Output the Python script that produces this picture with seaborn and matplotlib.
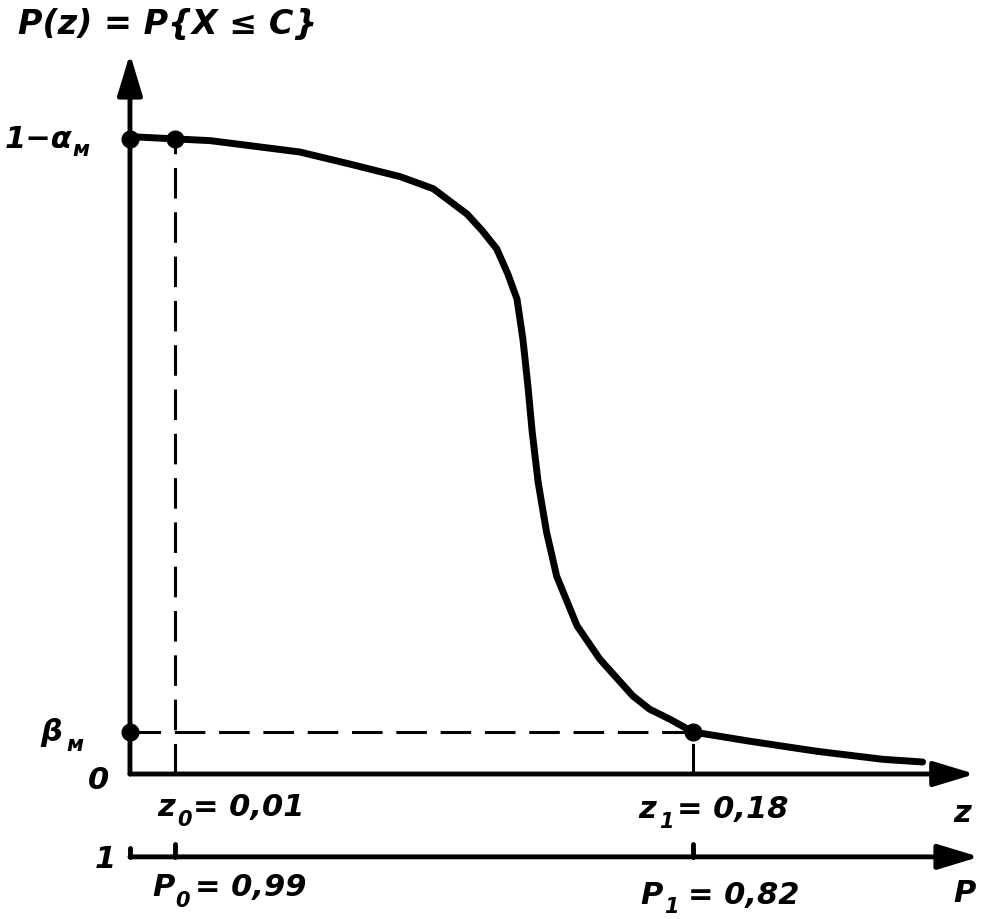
import pandas as pd
import seaborn as sns
from matplotlib import pyplot as plt

# operating characteristic P(z)
# z_pos = position along the z axis (axis length taken as 1), p_val = P(z)
z_pos = [0.0, 0.047, 0.095, 0.201, 0.260, 0.320, 0.359, 0.399, 0.417, 0.434,
         0.447, 0.458, 0.465, 0.471, 0.476, 0.483, 0.493, 0.505, 0.529, 0.556,
         0.595, 0.615, 0.639, 0.666, 0.734, 0.813, 0.891, 0.938]
p_val = [0.954, 0.951, 0.948, 0.931, 0.913, 0.894, 0.876, 0.838, 0.813, 0.786,
         0.749, 0.711, 0.651, 0.580, 0.512, 0.437, 0.362, 0.296, 0.222, 0.172,
         0.117, 0.097, 0.082, 0.063, 0.049, 0.034, 0.022, 0.018]

alpha_level = 0.951   # 1 - alpha_M
beta_level = 0.063    # beta_M
z0_pos = 0.053
z1_pos = 0.666
z_values = ['0,01', '0,18']
p_values = ['0,99', '0,82']
p_axis_y = -0.124

sns.set_theme(style='white')
plt.rcParams['font.family'] = ['DejaVu Sans']

fig = plt.figure(figsize=(9.88, 9.2), dpi=100)
ax = fig.add_axes([0, 0, 1, 1])
ax.set_xlim(-0.1538, 1.0154)
ax.set_ylim(-0.217, 1.160)
ax.axis('off')

curve = pd.DataFrame({'z': z_pos, 'P': p_val})
sns.lineplot(data=curve, x='z', y='P', sort=False, color='black', lw=5, ax=ax,
             solid_capstyle='round', solid_joinstyle='round')

# axes with arrows
arr = dict(arrowstyle='-|>,head_length=0.56,head_width=0.17', color='black', lw=3.5,
           mutation_scale=45, shrinkA=0, shrinkB=0)
ax.annotate('', xy=(1.0, 0), xytext=(0, 0), arrowprops=arr)
ax.annotate('', xy=(0, 1.078), xytext=(0, 0), arrowprops=arr)
ax.annotate('', xy=(1.005, p_axis_y), xytext=(0, p_axis_y), arrowprops=arr)
ax.plot([0, 0], [p_axis_y, p_axis_y + 0.014], color='black', lw=3.5)
for zp in [z0_pos, z1_pos]:
    ax.plot([zp, zp], [p_axis_y, p_axis_y + 0.02], color='black', lw=3.5)

# dashed guides
dash = dict(color='black', lw=2.2, ls=(0, (10, 4.5)))
ax.plot([z0_pos, z0_pos], [0, alpha_level], **dash)
ax.plot([0, z1_pos], [beta_level, beta_level], **dash)
ax.plot([z1_pos, z1_pos], [0, beta_level], **dash)

# marked points
ax.plot([0, z0_pos, 0, z1_pos], [alpha_level, alpha_level, beta_level, beta_level],
        'o', color='black', ms=12)

fs = 22
fsub = 15
tk = dict(color='black', fontsize=fs, fontstyle='italic', fontweight='bold', va='center', ha='left')
sk = dict(tk, fontsize=fsub)

ax.text(-0.1325, 1.123, 'P(z) = P{X ≤ C}', **dict(tk, fontsize=24))
ax.text(-0.148, alpha_level, '1−α', **tk)
ax.text(-0.068, alpha_level - 0.016, 'м', **sk)
ax.text(-0.1065, beta_level, 'β', **tk)
ax.text(-0.075, beta_level - 0.018, 'м', **sk)
ax.text(-0.050, -0.0075, '0', **tk)

ax.text(0.032, -0.048, 'z', **tk)
ax.text(0.0556, -0.068, '0', **sk)
ax.text(0.075, -0.048, '= ' + z_values[0], **tk)
ax.text(0.601, -0.052, 'z', **tk)
ax.text(0.626, -0.070, '1', **sk)
ax.text(0.647, -0.052, '= ' + z_values[1], **tk)
ax.text(0.974, -0.057, 'z', **tk)

ax.text(-0.0414, -0.127, '1', **tk)
ax.text(0.026, -0.169, 'P', **tk)
ax.text(0.054, -0.188, '0', **sk)
ax.text(0.0766, -0.169, '= ' + p_values[0], **tk)
ax.text(0.604, -0.180, 'P', **tk)
ax.text(0.632, -0.198, '1', **sk)
ax.text(0.660, -0.180, '= ' + p_values[1], **tk)
ax.text(0.974, -0.178, 'P', **tk)

fig.savefig('out.png', dpi=100, facecolor='white')
